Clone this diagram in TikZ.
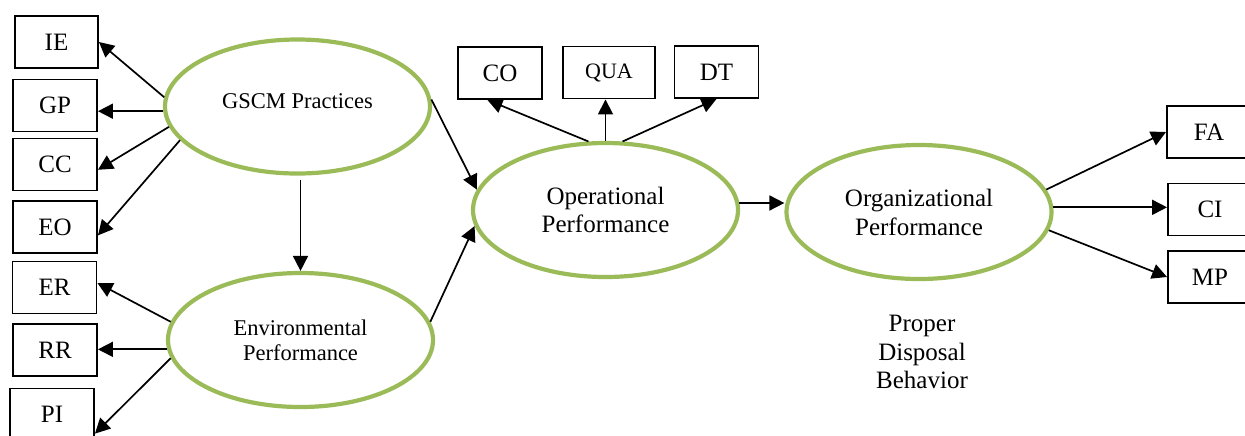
\documentclass[tikz,border=0pt]{standalone}
\usepackage{fontspec}
\setmainfont{Liberation Serif}
\usetikzlibrary{arrows.meta,shapes.geometric}
\definecolor{olivegreen}{HTML}{9BBB59}
\tikzset{
  latent/.style={ellipse, draw=olivegreen, line width=2.1pt, minimum width=132.5pt, minimum height=67pt, inner sep=0pt, align=center, font=\fontsize{12.5pt}{14pt}\selectfont},
  indic/.style={rectangle, draw=black, line width=0.95pt, minimum width=42pt, minimum height=26pt, inner sep=0pt, font=\fontsize{12.5pt}{14pt}\selectfont},
  arr/.style={-{Triangle[length=7.5pt,width=7.5pt]}, line width=0.85pt, black}
}
\begin{document}
\begin{tikzpicture}[x=0.5pt,y=-0.5pt]
\useasboundingbox (0,0) rectangle (1245,435);
\clip (0,0) rectangle (1245,435);
% latent constructs
\node[latent, font=\fontsize{11.25pt}{12.5pt}\selectfont] (gscm) at (297.5,106.5) {\raisebox{5.75pt}{GSCM Practices}};
\node[latent, font=\fontsize{11.25pt}{12.5pt}\selectfont] (env) at (300.5,340) {Environmental\\Performance};
\node[latent] (op) at (605.5,210) {Operational\\Performance};
\node[latent, font=\fontsize{12.5pt}{14.5pt}\selectfont] (org) at (919,212) {Organizational\\Performance};
% indicators
\node[indic, minimum width=41.5pt] (ie) at (56.5,42) {IE};
\node[indic] (gp) at (55,105.5) {GP};
\node[indic] (cc) at (55,164.5) {CC};
\node[indic] (eo) at (55,227) {EO};
\node[indic] (er) at (54.5,287.5) {ER};
\node[indic] (rr) at (55,350) {RR};
\node[indic] (pi) at (52,414.5) {PI};
\node[indic] (co) at (500,73) {CO};
\node[indic, minimum width=46pt, font=\fontsize{11pt}{13pt}\selectfont] (qua) at (609,72.5) {QUA};
\node[indic] (dt) at (716.5,72) {DT};
\node[indic] (fa) at (1209,132) {FA};
\node[indic] (ci) at (1210,209.5) {CI};
\node[indic] (mp) at (1210,277) {MP};
\node[align=center, inner sep=0pt, font=\fontsize{12.5pt}{14.25pt}\selectfont] (pdb) at (922,352) {Proper\\Disposal\\Behavior};
% connectors
\draw[arr] (gscm.176) -- (ie.east);
\draw[arr] (gscm.182) -- (gscm.182 -| gp.east);
\draw[arr] (gscm.189) -- (cc.-7);
\draw[arr] (gscm.196) -- (eo.-11);
\draw[arr, shorten <=2pt] (env.north |- gscm.south) -- (env.north);
\draw[arr] (env.172) -- (er.6);
\draw[arr] (env.184) -- (env.184 -| rr.east);
\draw[arr] (env.188) -- (pi.-24);
\draw[arr] (gscm.3) -- (op.171);
\draw[arr] (env.8) -- (op.187);
\draw[arr] (op.104) -- (co.-115);
\draw[arr] (op.north) -- (op.north |- qua.south);
\draw[arr] (op.76) -- (dt.south);
\draw[arr] (op.3) -- (op.3 -| org.west);
\draw[arr] (org.10) -- (fa.west);
\draw[arr] (org.2) -- (org.2 -| ci.west);
\draw[arr] (org.-8) -- (mp.west);
\end{tikzpicture}
\end{document}
